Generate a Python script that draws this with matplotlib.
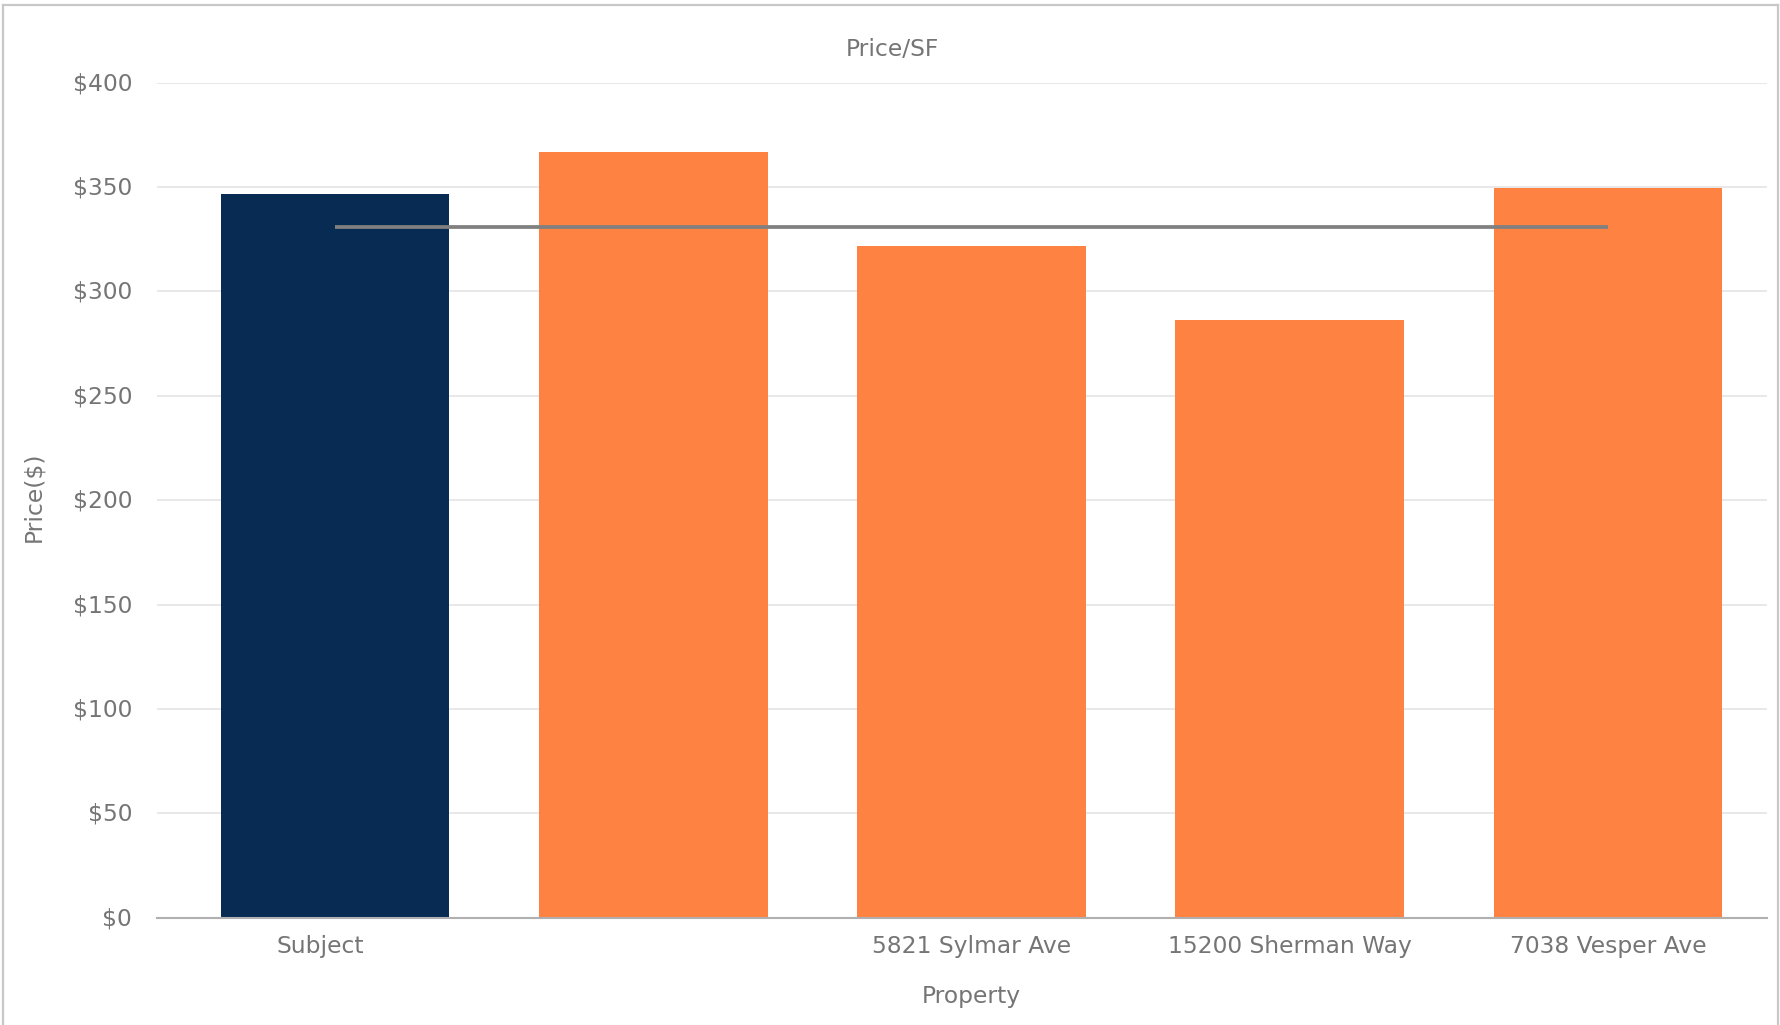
import matplotlib.pyplot as plt
import matplotlib.transforms as mtransforms
from matplotlib.lines import Line2D
from matplotlib.ticker import FuncFormatter, MultipleLocator

plt.rcParams['font.family'] = ['DejaVu Sans']

# price per square foot for the subject and its comparables
properties = ['Subject', '', '5821 Sylmar Ave', '15200 Sherman Way', '7038 Vesper Ave']
price_sf = [346.6, 366.6, 321.8, 286.1, 349.5]
bar_colors = ['#082b53', '#fe8241', '#fe8241', '#fe8241', '#fe8241']

# average of the comparables only
comp_avg = sum(price_sf[1:]) / len(price_sf[1:])

text_color = '#757575'
fs = 16.8

fig = plt.figure(figsize=(17.81, 10.25), dpi=100)
ax = fig.add_axes([0.0882, 0.1045, 0.9039, 0.8150])

x = list(range(len(properties)))
ax.bar(x, price_sf, width=0.718, color=bar_colors, zorder=2)
ax.plot(x, [comp_avg] * len(x), color='#808080', linewidth=2.7,
        solid_capstyle='butt', zorder=3)

ax.set_xlim(-0.56, 4.5)
ax.set_ylim(0, 400)
ax.yaxis.set_major_locator(MultipleLocator(50))
ax.yaxis.set_major_formatter(FuncFormatter(lambda v, pos: f'${v:.0f}'))
ax.grid(axis='y', color='#e6e6e6', linewidth=1.3, zorder=0)
ax.set_axisbelow(True)

ax.set_xticks(x)
ax.set_xticklabels(properties)
ax.tick_params(axis='both', length=0, labelsize=fs, labelcolor=text_color)
ax.tick_params(axis='y', pad=18)
ax.tick_params(axis='x', pad=12)

# nudge the first label a little to the left
shift = mtransforms.ScaledTranslation(-15 / 100, 0, fig.dpi_scale_trans)
first = ax.get_xticklabels()[0]
first.set_transform(first.get_transform() + shift)

# y labels sit a touch above their gridlines
lift = mtransforms.ScaledTranslation(0, 1.5 / 100, fig.dpi_scale_trans)
for lbl in ax.get_yticklabels():
    lbl.set_transform(lbl.get_transform() + lift)

for side in ['top', 'right', 'left']:
    ax.spines[side].set_visible(False)
ax.spines['bottom'].set_color('#b0b0b0')
ax.spines['bottom'].set_linewidth(1.5)
ax.spines['bottom'].set_zorder(4)

fig.text(0.501, 1 - 49 / 1025, 'Price/SF', ha='center', va='center',
         fontsize=fs, color=text_color)
fig.text(0.5455, 1 - 996 / 1025, 'Property', ha='center', va='center',
         fontsize=fs, color=text_color)
fig.text(34 / 1781, 1 - 497 / 1025, 'Price($)', ha='center', va='center',
         rotation=90, fontsize=fs, color=text_color)

# thin frame around the chart
frame_color = '#c8c8c8'
fx0, fx1, fy1 = 3.5 / 1781, 1778.5 / 1781, 1 - 4.5 / 1025
for xs, ys in [([fx0, fx0], [0, fy1]), ([fx0, fx1], [fy1, fy1]), ([fx1, fx1], [fy1, 0])]:
    fig.add_artist(Line2D(xs, ys, transform=fig.transFigure,
                          color=frame_color, linewidth=1.6))

fig.savefig('out.png', dpi=100)
